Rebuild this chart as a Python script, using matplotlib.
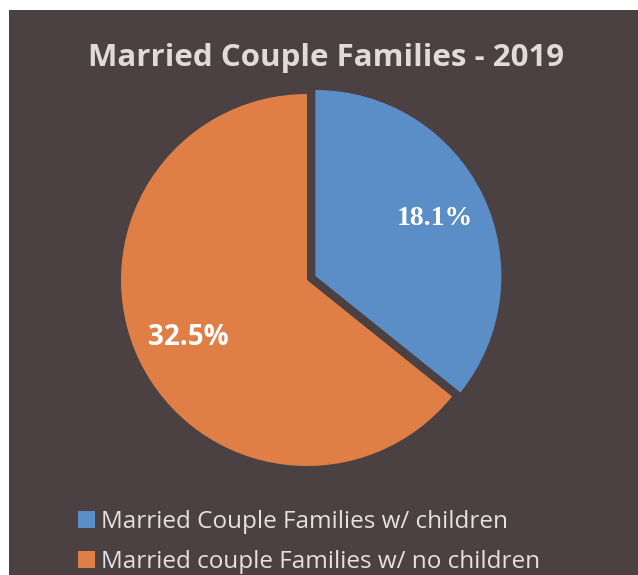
import numpy as np
import matplotlib.pyplot as plt
from matplotlib.patches import Rectangle

# data
categories = ['Married Couple Families w/ children',
              'Married couple Families w/ no children']
values = [18.1, 32.5]
value_labels = ['18.1%', '32.5%']
colors = ['#5b8dc6', '#e07f45']
bg = '#4b4142'

fig = plt.figure(figsize=(6.38, 5.75), dpi=100, facecolor='white')
fig.patches.append(Rectangle((9 / 638, 0), 1, 1 - 10 / 575, transform=fig.transFigure,
                             facecolor=bg, edgecolor='none', zorder=-10))

# pie axes: centre at (307, 280) px, radius 186 px
R = 186
cx, cy = 307, 280
half = 1.1 * R
ax = fig.add_axes([(cx - half) / 638, (575 - cy - half) / 575, 2 * half / 638, 2 * half / 575])

wedges, texts = ax.pie(values, colors=colors, startangle=90, counterclock=False,
                       explode=[0.05, 0], radius=1, labels=None,
                       wedgeprops=dict(linewidth=0))
# pie() resets the limits, so set them afterwards
ax.set_xlim(-1.1, 1.1)
ax.set_ylim(-1.1, 1.1)
ax.set_aspect('equal')
ax.axis('off')

# value labels inside the slices
fonts = [dict(family='Liberation Serif'), dict(family='Open Sans')]
for w, lab, f in zip(wedges, value_labels, fonts):
    ang = np.deg2rad((w.theta1 + w.theta2) / 2)
    x0, y0 = w.center
    ax.text(x0 + 0.71 * np.cos(ang), y0 + 0.71 * np.sin(ang), lab, ha='center', va='center',
            color='white', fontsize=20, fontweight='bold', **f)

fig.text(326 / 638, 1 - 58 / 575, 'Married Couple Families - 2019', ha='center', va='center',
         color='#e2dada', fontsize=22.5, fontweight='bold', family='Open Sans')

leg = fig.legend(wedges, categories, loc='center left', bbox_to_anchor=(68 / 638, 1 - 542 / 575),
                 frameon=False, handlelength=0.7, handleheight=0.7, handletextpad=0.25,
                 labelspacing=0.66, borderaxespad=0,
                 prop=dict(family='Open Sans', size=17.5))
for t in leg.get_texts():
    t.set_color('#e8e0e0')

fig.savefig('out.png', dpi=100, facecolor='white')
